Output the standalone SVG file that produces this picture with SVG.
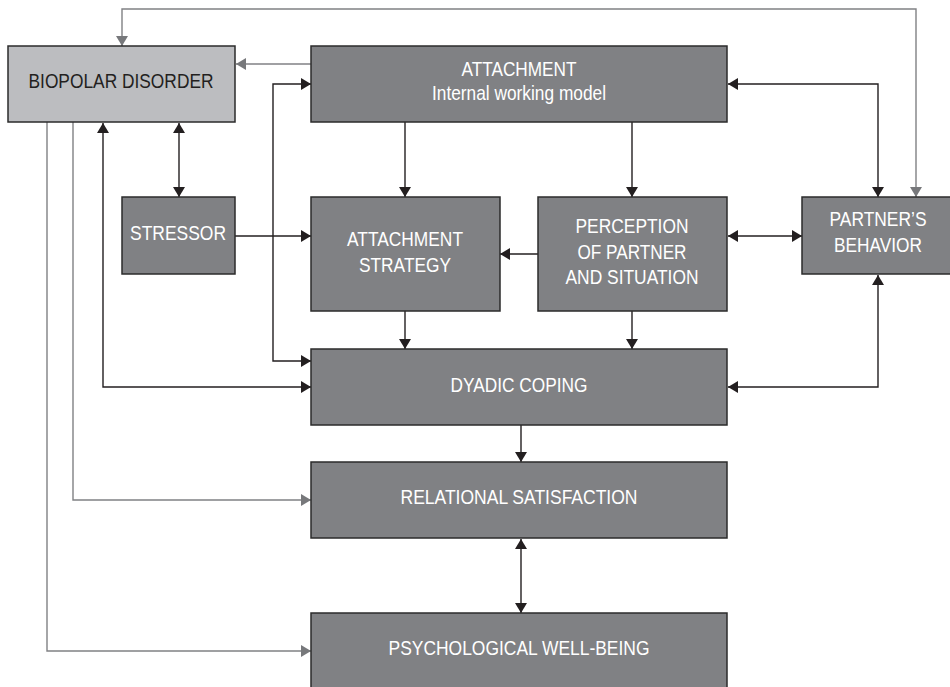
<svg xmlns="http://www.w3.org/2000/svg" width="950" height="687" viewBox="0 0 950 687">
<defs>
<style>
.box{fill:#808184;stroke:#2b2b2b;stroke-width:1.5}
.lbox{fill:#bcbdc0;stroke:#2b2b2b;stroke-width:1.5}
.t{font-family:"Liberation Sans Narrow","Arial Narrow","Liberation Sans",Arial,sans-serif;font-size:21px;text-anchor:middle;fill:#ffffff}
.td{fill:#231f20}
.k{fill:none;stroke:#231f20;stroke-width:1.4}
.g{fill:none;stroke:#808184;stroke-width:1.4}
</style>
<marker id="ak" viewBox="0 0 10 12" refX="10" refY="6" markerWidth="10" markerHeight="12" markerUnits="userSpaceOnUse" orient="auto-start-reverse"><path d="M0,0 L10,6 L0,12 Z" fill="#231f20"/></marker>
<marker id="ag" viewBox="0 0 10 12" refX="10" refY="6" markerWidth="10" markerHeight="12" markerUnits="userSpaceOnUse" orient="auto-start-reverse"><path d="M0,0 L10,6 L0,12 Z" fill="#77787b"/></marker>
</defs>
<g id="connectors">
<path class="g" d="M311,64 H236" marker-end="url(#ag)"/>
<path class="g" d="M916,197 V9 H122 V46" marker-start="url(#ag)" marker-end="url(#ag)"/>
<path class="g" d="M73,122 V500 H311" marker-end="url(#ag)"/>
<path class="g" d="M47,122 V651 H311" marker-end="url(#ag)"/>
<path class="k" d="M179,123 V197" marker-start="url(#ak)" marker-end="url(#ak)"/>
<path class="k" d="M311,387 H103 V123" marker-start="url(#ak)" marker-end="url(#ak)"/>
<path class="k" d="M311,361 H273 V84 H311" marker-start="url(#ak)" marker-end="url(#ak)"/>
<path class="k" d="M235,236 H311" marker-end="url(#ak)"/>
<path class="k" d="M405,122 V197" marker-end="url(#ak)"/>
<path class="k" d="M632,122 V197" marker-end="url(#ak)"/>
<path class="k" d="M728,84 H878 V197" marker-start="url(#ak)" marker-end="url(#ak)"/>
<path class="k" d="M538,254 H500" marker-end="url(#ak)"/>
<path class="k" d="M728,236 H802" marker-start="url(#ak)" marker-end="url(#ak)"/>
<path class="k" d="M405,311 V349" marker-end="url(#ak)"/>
<path class="k" d="M632,311 V349" marker-end="url(#ak)"/>
<path class="k" d="M728,387 H878 V275" marker-start="url(#ak)" marker-end="url(#ak)"/>
<path class="k" d="M521,425 V462" marker-end="url(#ak)"/>
<path class="k" d="M521,539 V613" marker-start="url(#ak)" marker-end="url(#ak)"/>
</g>
<g id="biopolar">
<rect class="lbox" x="8" y="46" width="227" height="76"/>
<text class="t td" x="121" y="88" textLength="185" lengthAdjust="spacingAndGlyphs">BIOPOLAR DISORDER</text>
</g>
<g id="attachment">
<rect class="box" x="311" y="46" width="416" height="76"/>
<text class="t" x="519" y="76" textLength="115" lengthAdjust="spacingAndGlyphs">ATTACHMENT</text>
<text class="t" x="519" y="100" textLength="174" lengthAdjust="spacingAndGlyphs">Internal working model</text>
</g>
<g id="stressor">
<rect class="box" x="122" y="197" width="113" height="77"/>
<text class="t" x="178" y="240" textLength="96" lengthAdjust="spacingAndGlyphs">STRESSOR</text>
</g>
<g id="strategy">
<rect class="box" x="311" y="197" width="189" height="114"/>
<text class="t" x="405" y="246" textLength="116" lengthAdjust="spacingAndGlyphs">ATTACHMENT</text>
<text class="t" x="405" y="272" textLength="92" lengthAdjust="spacingAndGlyphs">STRATEGY</text>
</g>
<g id="perception">
<rect class="box" x="538" y="197" width="189" height="114"/>
<text class="t" x="632" y="233" textLength="113" lengthAdjust="spacingAndGlyphs">PERCEPTION</text>
<text class="t" x="632" y="259" textLength="109" lengthAdjust="spacingAndGlyphs">OF PARTNER</text>
<text class="t" x="632" y="284" textLength="133" lengthAdjust="spacingAndGlyphs">AND SITUATION</text>
</g>
<g id="partner">
<rect class="box" x="802" y="197" width="152" height="77"/>
<text class="t" x="878" y="226" textLength="97" lengthAdjust="spacingAndGlyphs">PARTNER’S</text>
<text class="t" x="878" y="252" textLength="88" lengthAdjust="spacingAndGlyphs">BEHAVIOR</text>
</g>
<g id="dyadic">
<rect class="box" x="311" y="349" width="416" height="76"/>
<text class="t" x="519" y="392" textLength="137" lengthAdjust="spacingAndGlyphs">DYADIC COPING</text>
</g>
<g id="relational">
<rect class="box" x="311" y="462" width="416" height="76"/>
<text class="t" x="519" y="504" textLength="237" lengthAdjust="spacingAndGlyphs">RELATIONAL SATISFACTION</text>
</g>
<g id="wellbeing">
<rect class="box" x="311" y="613" width="416" height="80"/>
<text class="t" x="519" y="655" textLength="261" lengthAdjust="spacingAndGlyphs">PSYCHOLOGICAL WELL-BEING</text>
</g>
</svg>
